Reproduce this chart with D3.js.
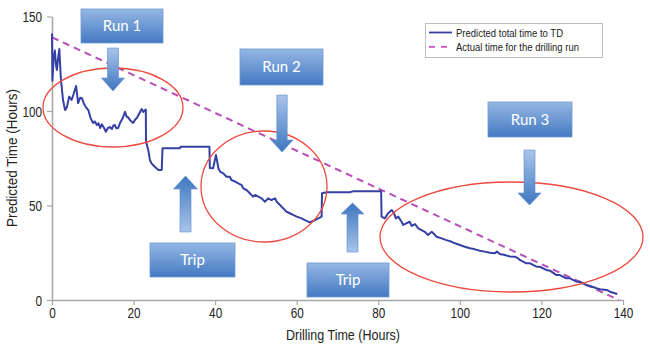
<!DOCTYPE html>
<html>
<head>
<meta charset="utf-8">
<script src="https://cdn.jsdelivr.net/npm/d3@7"></script>
<style>
  html, body { margin: 0; padding: 0; background: #fff; }
  svg { display: block; }
  .axis text { font-family: "Liberation Sans", Arial, sans-serif; font-size: 14px; fill: #222; }
</style>
</head>
<body>
<svg id="chart" width="650" height="348"></svg>
<script>
// ---------------- data ----------------
const xTicks = [0, 20, 40, 60, 80, 100, 120, 140];
const yTicks = [0, 50, 100, 150];
const seriesNames = ["Predicted total time to TD", "Actual time for the drilling run"];
const xTitle = "Drilling Time (Hours)";
const yTitle = "Predicted Time (Hours)";
const annotationLabels = ["Run 1", "Run 2", "Run 3", "Trip", "Trip"];

// actual time remaining for the drilling run [hours, hours]
const actual = [[0, 139], [139, 0]];

// predicted total time to TD [drilling hours, predicted hours]
const predicted = [
  [0,141],[0.1,116],[0.4,128],[0.7,132],[1.0,124],[1.2,121.7],[1.5,128],[1.8,132.8],[2.0,124],[2.2,116.4],
  [2.5,110],[2.7,105.8],[3.2,100.5],[3.6,101.6],[4.2,107.6],[4.8,105.8],[5.3,109],[5.9,113.2],[6.2,108],[6.4,104.2],
  [6.9,107],[7.3,106.9],[7.8,104],[8.3,102.1],[8.9,100.5],[9.5,96],[10.1,93.7],[10.5,94.5],[11,92.6],[11.4,93.5],
  [11.8,91],[12.2,93],[12.5,92],[12.9,90.5],[13.2,89],[13.7,91],[14.2,91.5],[14.7,90.5],[15.1,92.5],[15.4,92.6],
  [15.8,90.8],[16.2,91],[16.8,94.2],[17.3,96],[17.9,99.6],[18.3,97],[18.6,96.8],[19.2,95],[19.9,93.7],[20.4,95.5],
  [20.8,96.3],[21.2,97.9],[21.6,99.5],[22,101],[22.4,99.5],[22.8,100.5],[23.0,100.8],[23.05,83.8],[23.6,79.4],[24,74.1],
  [24.4,72.3],[25.2,70.5],[26.1,68.8],[26.9,68.8],[27.1,80.3],[31.4,80.3],[31.5,81.1],[38.6,81.1],[38.7,69.8],[39.5,69.7],
  [40.2,76.7],[40.8,69.7],[41.2,67.9],[42,67],[42.8,65.2],[43.6,65.2],[44,63.5],[44.9,62.6],[45.7,61.7],[46.5,60.8],
  [46.9,59.1],[47.7,58.2],[48.5,56.5],[49.3,54.7],[49.8,55.6],[50.6,54.7],[51.4,53.8],[52.2,52],[53,53.8],[53.8,52.9],
  [54.7,53.8],[55.1,52],[55.9,50.3],[56.7,48.5],[57.5,46.7],[58.3,45.9],[59.1,45],[60,44.1],[61.2,43.2],[62,42.3],
  [63.2,41.1],[64,41.8],[65.3,43.2],[66.1,44.1],[66.2,56.5],[67.3,57],[73,57],[74,57.6],[80.7,57.5],[80.8,44.1],
  [81.6,43.2],[82.4,45.9],[83.3,47.6],[83.8,46.2],[84.3,43.2],[84.9,44.1],[85.7,41.4],[86.1,39.7],[86.9,40.6],[87.7,41.4],
  [88.2,39.2],[89,40.2],[89.8,37.9],[90.6,37],[91.4,36.1],[92.2,34.4],[93.1,36.1],[93.5,35.3],[94.3,33.5],[95.5,32.6],
  [96.7,31.7],[98,30.8],[98.8,30],[100,29.1],[101.2,28.2],[102.5,27.4],[103.7,26.8],[104.9,26.1],[106.1,25.6],[107.4,25],
  [108.6,24.7],[109.1,25.6],[109.8,24.3],[111,23.8],[112.3,23],[113.5,22.9],[114.3,22],[114.7,21.2],[116.3,19.4],[117.2,19.4],
  [118.8,17.6],[119.6,17.6],[121.2,15.9],[122.1,15.5],[123.7,13.2],[124.5,13.2],[126.1,11.5],[127,11.5],[128.6,9.7],[129.4,9.7],
  [131,7.9],[131.9,7.4],[133.5,6.2],[134.3,5.7],[136,5.3],[136.8,4.4],[138.6,3.2]
];

// ---------------- chart ----------------
const svg = d3.select("#chart");
const x = d3.scaleLinear().domain([0, 140]).range([52, 623]);
const y = d3.scaleLinear().domain([0, 150]).range([300, 16.5]);
const axisColor = "#a8a8a8";
const narrow = 0.84;

const defs = svg.append("defs");
const boxGrad = defs.append("linearGradient").attr("id", "boxGrad").attr("x1", 0).attr("y1", 0).attr("x2", 0).attr("y2", 1);
boxGrad.append("stop").attr("offset", "0%").attr("stop-color", "#95b7e4");
boxGrad.append("stop").attr("offset", "100%").attr("stop-color", "#4479c2");
const downGrad = defs.append("linearGradient").attr("id", "downGrad").attr("x1", 0).attr("y1", 0).attr("x2", 0).attr("y2", 1);
downGrad.append("stop").attr("offset", "0%").attr("stop-color", "#a9c5ea");
downGrad.append("stop").attr("offset", "100%").attr("stop-color", "#3f76c0");
const upGrad = defs.append("linearGradient").attr("id", "upGrad").attr("x1", 0).attr("y1", 1).attr("x2", 0).attr("y2", 0);
upGrad.append("stop").attr("offset", "0%").attr("stop-color", "#a9c5ea");
upGrad.append("stop").attr("offset", "100%").attr("stop-color", "#3f76c0");

// axes
const yAxis = svg.append("g").attr("class", "axis").attr("transform", `translate(${x(0)},0)`)
  .call(d3.axisLeft(y).tickValues(yTicks).tickSize(5).tickSizeOuter(0).tickPadding(0));
const xAxis = svg.append("g").attr("class", "axis").attr("transform", `translate(0,${y(0)})`)
  .call(d3.axisBottom(x).tickValues(xTicks).tickSize(5).tickSizeOuter(0).tickPadding(3));
[xAxis, yAxis].forEach(g => {
  g.select(".domain").attr("stroke", axisColor).attr("stroke-width", 1.6);
  g.selectAll(".tick line").attr("stroke", axisColor).attr("stroke-width", 1.2);
});
yAxis.selectAll("text").attr("x", null).attr("dy", "0.36em").attr("transform", `translate(-10,0) scale(${narrow},1)`);
xAxis.selectAll("text").attr("transform", `scale(${narrow},1)`);

const titleFont = '"Liberation Sans", Arial, sans-serif';
svg.append("text").attr("x", 343).attr("y", 340).attr("text-anchor", "middle")
  .attr("textLength", 114).attr("lengthAdjust", "spacingAndGlyphs")
  .style("font-family", titleFont).style("font-size", "14px").style("fill", "#222")
  .text(xTitle);
svg.append("text").attr("transform", "translate(17,158) rotate(-90)").attr("text-anchor", "middle")
  .attr("textLength", 138).attr("lengthAdjust", "spacingAndGlyphs")
  .style("font-family", titleFont).style("font-size", "14px").style("fill", "#222")
  .text(yTitle);

// series
const line = d3.line().x(d => x(d[0])).y(d => y(d[1]));
svg.append("path").datum(actual).attr("d", line).attr("fill", "none")
  .attr("stroke", "#b84db8").attr("stroke-width", 2).attr("stroke-dasharray", "7,5");
svg.append("path").datum(predicted).attr("d", line).attr("fill", "none")
  .attr("stroke", "#3640a4").attr("stroke-width", 2).attr("stroke-linejoin", "round");

// ellipses
const ellipses = [
  {cx: 113, cy: 107.5, rx: 70, ry: 39.5},
  {cx: 264, cy: 186.5, rx: 63, ry: 55.5},
  {cx: 511.5, cy: 237, rx: 131.5, ry: 55}
];
svg.selectAll(".ell").data(ellipses).enter().append("ellipse")
  .attr("cx", d => d.cx).attr("cy", d => d.cy).attr("rx", d => d.rx).attr("ry", d => d.ry)
  .attr("fill", "none").attr("stroke", "#ec4a3f").attr("stroke-width", 1.3);

// arrows: cx, tail y, head base y, tip y, shaft half width, head half width
const arrows = [
  {cx: 113, tail: 48, base: 78, tip: 91, sw: 5.5, hw: 11.5},
  {cx: 282, tail: 95, base: 140, tip: 152, sw: 5.2, hw: 11},
  {cx: 529.5, tail: 150, base: 193, tip: 205, sw: 5.5, hw: 11.5},
  {cx: 185.5, tail: 232, base: 189, tip: 176, sw: 5.5, hw: 12},
  {cx: 352.5, tail: 252, base: 214, tip: 203, sw: 5.5, hw: 11.5}
];
svg.selectAll(".arrow").data(arrows).enter().append("path")
  .attr("d", a => `M${a.cx - a.sw},${a.tail} L${a.cx + a.sw},${a.tail} L${a.cx + a.sw},${a.base} L${a.cx + a.hw},${a.base} L${a.cx},${a.tip} L${a.cx - a.hw},${a.base} L${a.cx - a.sw},${a.base} Z`)
  .attr("fill", a => a.tip > a.tail ? "url(#downGrad)" : "url(#upGrad)")
  .attr("stroke", "#5b8bcf").attr("stroke-width", 0.6);

// label boxes
const boxes = [
  {x0: 81, y0: 9, x1: 163, y1: 43},
  {x0: 240, y0: 49, x1: 323, y1: 85},
  {x0: 488, y0: 102, x1: 572, y1: 137},
  {x0: 150, y0: 243, x1: 235, y1: 277},
  {x0: 307, y0: 263, x1: 389, y1: 297}
];
const bg = svg.selectAll(".box").data(boxes).enter().append("g");
bg.append("rect").attr("x", d => d.x0).attr("y", d => d.y0)
  .attr("width", d => d.x1 - d.x0).attr("height", d => d.y1 - d.y0)
  .attr("fill", "url(#boxGrad)").attr("stroke", "#6f98d4").attr("stroke-width", 0.8);
bg.append("text").attr("x", d => (d.x0 + d.x1) / 2).attr("y", d => (d.y0 + d.y1) / 2 + 5)
  .attr("text-anchor", "middle").style("font-family", "Lato, 'Open Sans', sans-serif")
  .style("font-size", "15px").style("fill", "#fff")
  .text((d, i) => annotationLabels[i]);

// legend
const lg = svg.append("g");
lg.append("rect").attr("x", 425.5).attr("y", 23.5).attr("width", 177).attr("height", 34)
  .attr("fill", "#fff").attr("stroke", "#bdbdbd").attr("stroke-width", 1);
const legendRows = [
  {stroke: "#3640a4", dash: null, len: 107},
  {stroke: "#c84ec0", dash: "6,6", len: 123}
];
legendRows.forEach((r, i) => {
  const yy = 32.5 + i * 14.3;
  lg.append("line").attr("x1", 429).attr("x2", 452).attr("y1", yy).attr("y2", yy)
    .attr("stroke", r.stroke).attr("stroke-width", 1.8).attr("stroke-dasharray", r.dash);
  lg.append("text").attr("x", 456).attr("y", yy + 4)
    .attr("textLength", r.len).attr("lengthAdjust", "spacingAndGlyphs")
    .style("font-family", titleFont).style("font-size", "10.5px").style("fill", "#222")
    .text(seriesNames[i]);
});
</script>
</body>
</html>
